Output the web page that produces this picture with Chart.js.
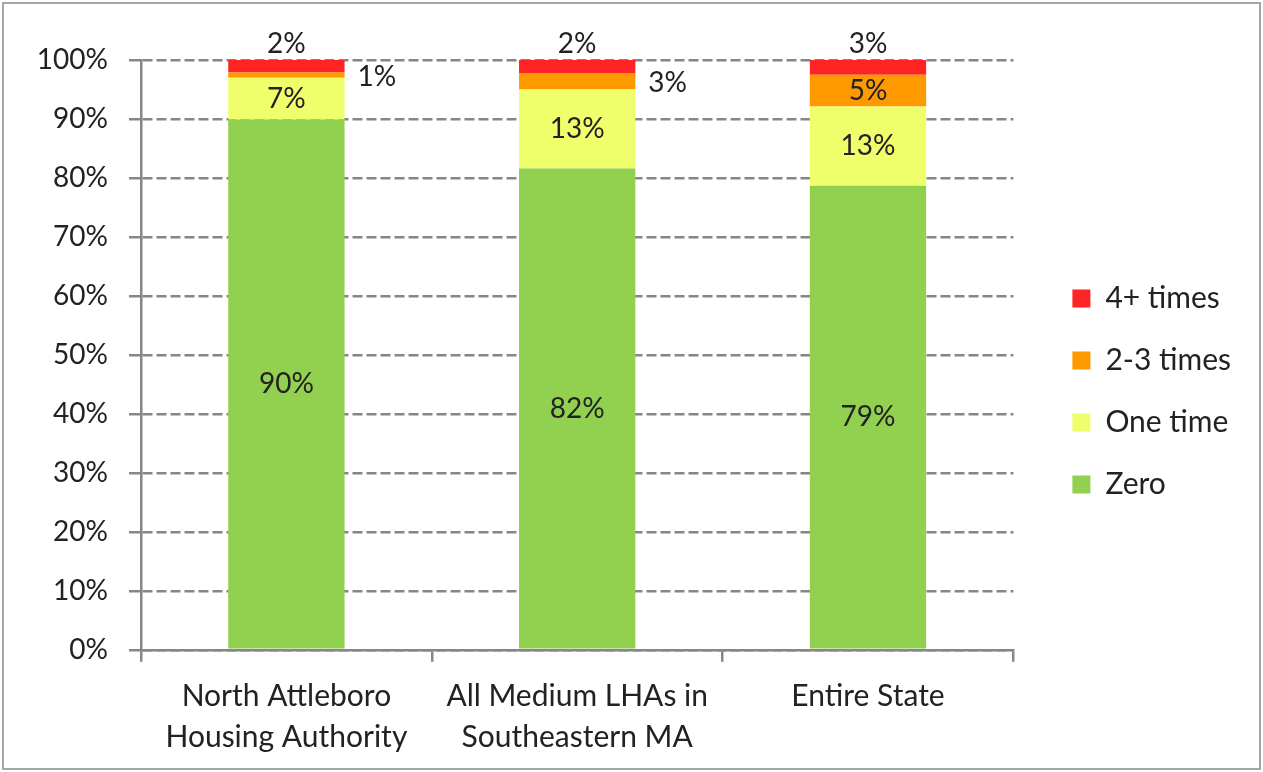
<!DOCTYPE html>
<html>
<head>
<meta charset="utf-8">
<script src="https://cdn.jsdelivr.net/npm/chart.js@4/dist/chart.umd.min.js"></script>
<style>
  html, body { margin: 0; padding: 0; background: #fff; }
  #wrap { width: 1263px; height: 772px; position: relative; }
</style>
</head>
<body>
<div id="wrap"><canvas id="chart"></canvas></div>
<script>
// categorias e séries (percentuais)
const categorias = [
  ['North Attleboro', 'Housing Authority'],
  ['All Medium LHAs in', 'Southeastern MA'],
  ['Entire State']
];
const zero = [89.9, 81.6, 78.7];
const umaVez = [7.1, 13.4, 13.4];
const duasTres = [0.9, 2.8, 5.4];
const quatroMais = [2.1, 2.2, 2.5];
const ticksY = [0, 10, 20, 30, 40, 50, 60, 70, 80, 90, 100];

// onde cada rótulo vai (por série, por barra)
const posRotulos = {
  'Zero': ['center', 'center', 'center'],
  'One time': ['center', 'center', 'center'],
  '2-3 times': ['right', 'right', 'center'],
  '4+ times': ['top', 'top', 'top']
};

const fonte = 'Lato, "Open Sans", sans-serif';
const corTexto = '#222';
const corGrade = '#868686';

// Rótulos de dados desenhados à mão (sem plugin externo)
const rotulosPlugin = {
  id: 'rotulos',
  afterDatasetsDraw(chart) {
    const ctx = chart.ctx;
    ctx.save();
    ctx.font = '28px ' + fonte;
    ctx.fillStyle = corTexto;
    chart.data.datasets.forEach((ds, di) => {
      const meta = chart.getDatasetMeta(di);
      meta.data.forEach((bar, i) => {
        const texto = Math.round(ds.data[i]) + '%';
        const pos = posRotulos[ds.label][i];
        const meio = (bar.y + bar.base) / 2;
        if (pos === 'top') {
          ctx.textAlign = 'center';
          ctx.textBaseline = 'bottom';
          ctx.fillText(texto, bar.x, bar.y - 2);
        } else if (pos === 'right') {
          ctx.textAlign = 'left';
          ctx.textBaseline = 'middle';
          ctx.fillText(texto, bar.x + bar.width / 2 + 13, meio + 2);
        } else {
          ctx.textAlign = 'center';
          ctx.textBaseline = 'middle';
          ctx.fillText(texto, bar.x, meio);
        }
      });
    });
    ctx.restore();
  }
};

// Moldura cinza em volta do gráfico
const molduraPlugin = {
  id: 'moldura',
  afterDraw(chart) {
    const ctx = chart.ctx;
    ctx.save();
    ctx.strokeStyle = '#a6a6a6';
    ctx.lineWidth = 2;
    ctx.strokeRect(3, 3, chart.width - 6, chart.height - 6);
    ctx.restore();
  }
};

// eixo vazio (só ocupa espaço)
function eixoVazio(pos, tamanho) {
  return {
    type: 'linear',
    position: pos,
    display: true,
    grid: { display: false },
    border: { display: false },
    ticks: { display: false },
    afterFit(scale) {
      if (pos === 'top') scale.height = tamanho;
      else scale.width = tamanho;
    }
  };
}

new Chart(document.getElementById('chart'), {
  type: 'bar',
  data: {
    labels: categorias,
    datasets: [
      { label: 'Zero', data: zero, backgroundColor: '#92D050' },
      { label: 'One time', data: umaVez, backgroundColor: '#EFFF6B' },
      { label: '2-3 times', data: duasTres, backgroundColor: '#FF9900' },
      { label: '4+ times', data: quatroMais, backgroundColor: '#FF2424' }
    ]
  },
  options: {
    responsive: true,
    maintainAspectRatio: false,
    animation: false,
    datasets: {
      bar: { barPercentage: 0.4, categoryPercentage: 1, borderWidth: 0 }
    },
    layout: { padding: { top: 11, bottom: 0, left: 0, right: 22 } },
    plugins: {
      legend: {
        position: 'right',
        reverse: true,
        labels: {
          boxWidth: 18,
          boxHeight: 18,
          padding: 32,
          color: corTexto,
          font: { family: fonte, size: 30 }
        }
      },
      tooltip: { enabled: false }
    },
    scales: {
      x: {
        stacked: true,
        grid: {
          drawOnChartArea: false,
          offset: true,
          tickLength: 12,
          color: corGrade,
          lineWidth: 2.5
        },
        border: { color: corGrade, width: 2.5 },
        ticks: {
          padding: 14,
          color: corTexto,
          maxRotation: 0,
          autoSkip: false,
          font: { family: fonte, size: 30, lineHeight: 1.37 }
        }
      },
      y: {
        stacked: true,
        min: 0,
        max: 100,
        afterBuildTicks(scale) {
          scale.ticks = ticksY.map(v => ({ value: v }));
        },
        afterFit(scale) {
          scale.width = 141;
        },
        grid: {
          color: corGrade,
          lineWidth: 2.5,
          tickLength: 12,
          tickBorderDash: []
        },
        border: { color: corGrade, width: 2.5, dash: [10, 4] },
        ticks: {
          padding: 21,
          color: corTexto,
          font: { family: fonte, size: 28 },
          callback: v => v + '%'
        }
      },
      // espaço entre área do gráfico e legenda / topo
      espaco: eixoVazio('right', 27),
      topo: eixoVazio('top', 49)
    }
  },
  plugins: [rotulosPlugin, molduraPlugin]
});
</script>
</body>
</html>
